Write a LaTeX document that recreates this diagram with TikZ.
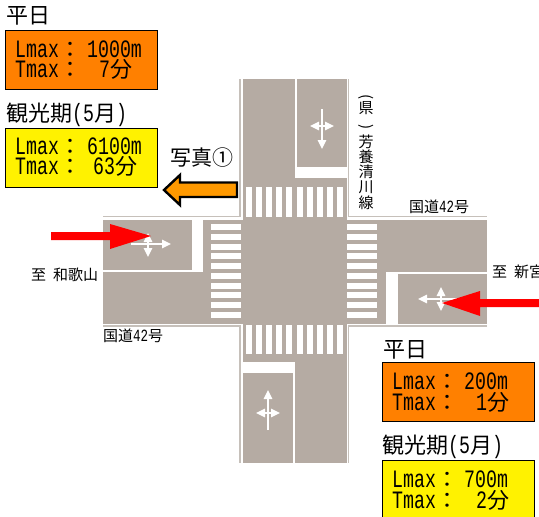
\documentclass[tikz,border=0pt]{standalone}
\usepackage{fontspec}
\usepackage{graphicx}
\usetikzlibrary{arrows.meta}
\newfontfamily\cjkf{Noto Sans CJK JP}
\newfontfamily\latf[FakeStretch=0.73]{Liberation Mono}
\definecolor{roadgray}{HTML}{B5ABA3}
\definecolor{edgegray}{HTML}{C6C0BA}
\definecolor{boxorange}{HTML}{FF8000}
\definecolor{arroworange}{HTML}{FF9900}
\newcommand\fs[1]{\fontsize{#1}{#1}\selectfont}
\newcommand\lmline[3]{\makebox[#2pt][l]{\latf\fs{25}#1\cjkf\fs{22}：}#3}
\newcommand\lv[1]{{\latf\fs{25}#1}}
\newcommand\fen{{\cjkf\fs{22}分}}
\newcommand\hd{\cjkf\fs{22}}
\newcommand\gk[1]{\cjkf\fs{15}国道{\latf\fontsize{17.1}{17.1}\selectfont 42}号}
\tikzset{
  road/.style={fill=roadgray,draw=none},
  gap/.style={fill=white,draw=none},
  edge/.style={draw=edgegray,line width=1.4pt},
  stripe/.style={fill=white,draw=none},
  sign/.style={draw=white,line width=1.3pt},
  signhead/.style={arrows={-{Triangle[length=9pt,width=8.5pt,fill=white]}}},
  signboth/.style={arrows={{Triangle[length=9pt,width=8.5pt,fill=white]}-{Triangle[length=9pt,width=8.5pt,fill=white]}}},
  redarrow/.style={fill=red,draw=none},
  infobox/.style={draw=black,line width=1.3pt,minimum width=152pt,minimum height=59pt,inner sep=0pt,anchor=north west},
  infotext/.style={anchor=west,inner sep=0pt,align=left,text height=14pt,text depth=3pt},
  head/.style={anchor=west,inner sep=0pt},
  lbl/.style={inner sep=0pt}
}
\begin{document}
\begin{tikzpicture}[x=1pt,y=-1pt]
\useasboundingbox (0,0) rectangle (539,517);
\clip (0,0) rectangle (539,517);
\fill[white] (0,0) rectangle (539,517);
% roads
\fill[road] (243,79) rectangle (346.5,463);
\fill[road] (103,220) rectangle (487,323.5);
% curb lines
\draw[edge] (240,79) -- (240,216.5) -- (103,216.5);
\draw[edge] (348.5,79) -- (348.5,216.5) -- (487,216.5);
\draw[edge] (103,326) -- (240,326) -- (240,463);
\draw[edge] (487,326) -- (348.5,326) -- (348.5,463);
% median gaps (stop-line islands)
\fill[gap] (295,79) rectangle (297,178);
\fill[gap] (295,167) rectangle (347,178);
\fill[gap] (192,219) rectangle (203,272);
\fill[gap] (103,270) rectangle (203,272);
\fill[gap] (386,272) rectangle (398,324);
\fill[gap] (386,272) rectangle (487,274);
\fill[gap] (293,362) rectangle (295,463);
\fill[gap] (243,362) rectangle (295,373);
% crossings
\foreach \i in {0,...,9}{
  \fill[stripe] ({246+10.1*\i},187) rectangle ++(6,30);
  \fill[stripe] ({246+10.1*\i},325) rectangle ++(6,29);
  \fill[stripe] (211,{224+9.75*\i}) rectangle ++(30,6);
  \fill[stripe] (347,{224+9.75*\i}) rectangle ++(30,6);
}
% lane signs
\draw[sign,signhead] (322,109) -- (322,149);
\draw[sign,signboth] (310,126) -- (334,126);
\draw[sign,signhead] (268,430) -- (268,390);
\draw[sign,signboth] (256,413) -- (280,413);
\draw[sign,signhead] (131,244) -- (171,244);
\draw[sign,signboth] (148,233) -- (148,257);
\draw[sign,signhead] (458,299) -- (418,299);
\draw[sign,signboth] (441,287) -- (441,311);
% red arrows
\fill[redarrow] (51,232) -- (110,232) -- (110,224) -- (151,236) -- (110,249) -- (110,240) -- (51,240) -- cycle;
\fill[redarrow] (539,299) -- (480,299) -- (480,291) -- (442,303) -- (480,316) -- (480,307) -- (539,307) -- cycle;
% photo arrow
\draw[fill=arroworange,draw=black,line width=2.4pt,miter limit=6] (237,182.5) -- (180,182.5) -- (180,175) -- (164,190) -- (180,205) -- (180,197) -- (237,197) -- cycle;
% boxes
\node[infobox,fill=boxorange] (boxa) at (5,30) {};
\node[infobox,fill=yellow] (boxb) at (5,128) {};
\node[infobox,fill=boxorange] (boxc) at (382,362) {};
\node[infobox,fill=yellow] (boxd) at (382,460) {};
\node[infotext] (ta1) at (15,52) {\lmline{Lmax}{72}{\lv{1000m}}};
\node[infotext] (ta2) at (15,72) {\lmline{Tmax}{84}{\lv{7}\fen}};
\node[infotext] (tb1) at (15,149) {\lmline{Lmax}{72}{\lv{6100m}}};
\node[infotext] (tb2) at (15,169) {\lmline{Tmax}{78}{\lv{63}\fen}};
\node[infotext] (tc1) at (392,384) {\lmline{Lmax}{72}{\lv{200m}}};
\node[infotext] (tc2) at (392,405) {\lmline{Tmax}{84}{\lv{1}\fen}};
\node[infotext] (td1) at (392,482) {\lmline{Lmax}{72}{\lv{700m}}};
\node[infotext] (td2) at (392,503) {\lmline{Tmax}{84}{\lv{2}\fen}};
% headings
\node[head] (ha) at (6,16) {\hd 平日};
\node[head] (hb) at (6,115) {\hd 観光期\lv{(5}月\lv{)}};
\node[head] (hc) at (383,350) {\hd 平日};
\node[head] (hd) at (382,447) {\hd 観光期\lv{(5}月\lv{)}};
% labels
\node[lbl] (photo) at (202,158) {\cjkf\fs{21}写真①};
\node[lbl,anchor=west] (r1) at (409,207) {\gk{}};
\node[lbl,anchor=west] (r2) at (103,336) {\gk{}};
\node[lbl,anchor=west] (wak) at (31,275) {\cjkf\fs{15}至\hspace{7pt}和歌山};
\node[lbl,anchor=west] (shi) at (492,272) {\cjkf\fs{15}至\hspace{7pt}新宮};
\node[lbl,align=center,font=\cjkf\fontsize{15}{11}\selectfont] (pref) at (366,112) {\rotatebox{-90}{(}\\ 県\\ \rotatebox{-90}{)}};
\node[lbl,align=center,font=\cjkf\fontsize{15}{15.2}\selectfont] (route) at (366,172) {芳\\ 養\\ 清\\ 川\\ 線};
\end{tikzpicture}
\end{document}
